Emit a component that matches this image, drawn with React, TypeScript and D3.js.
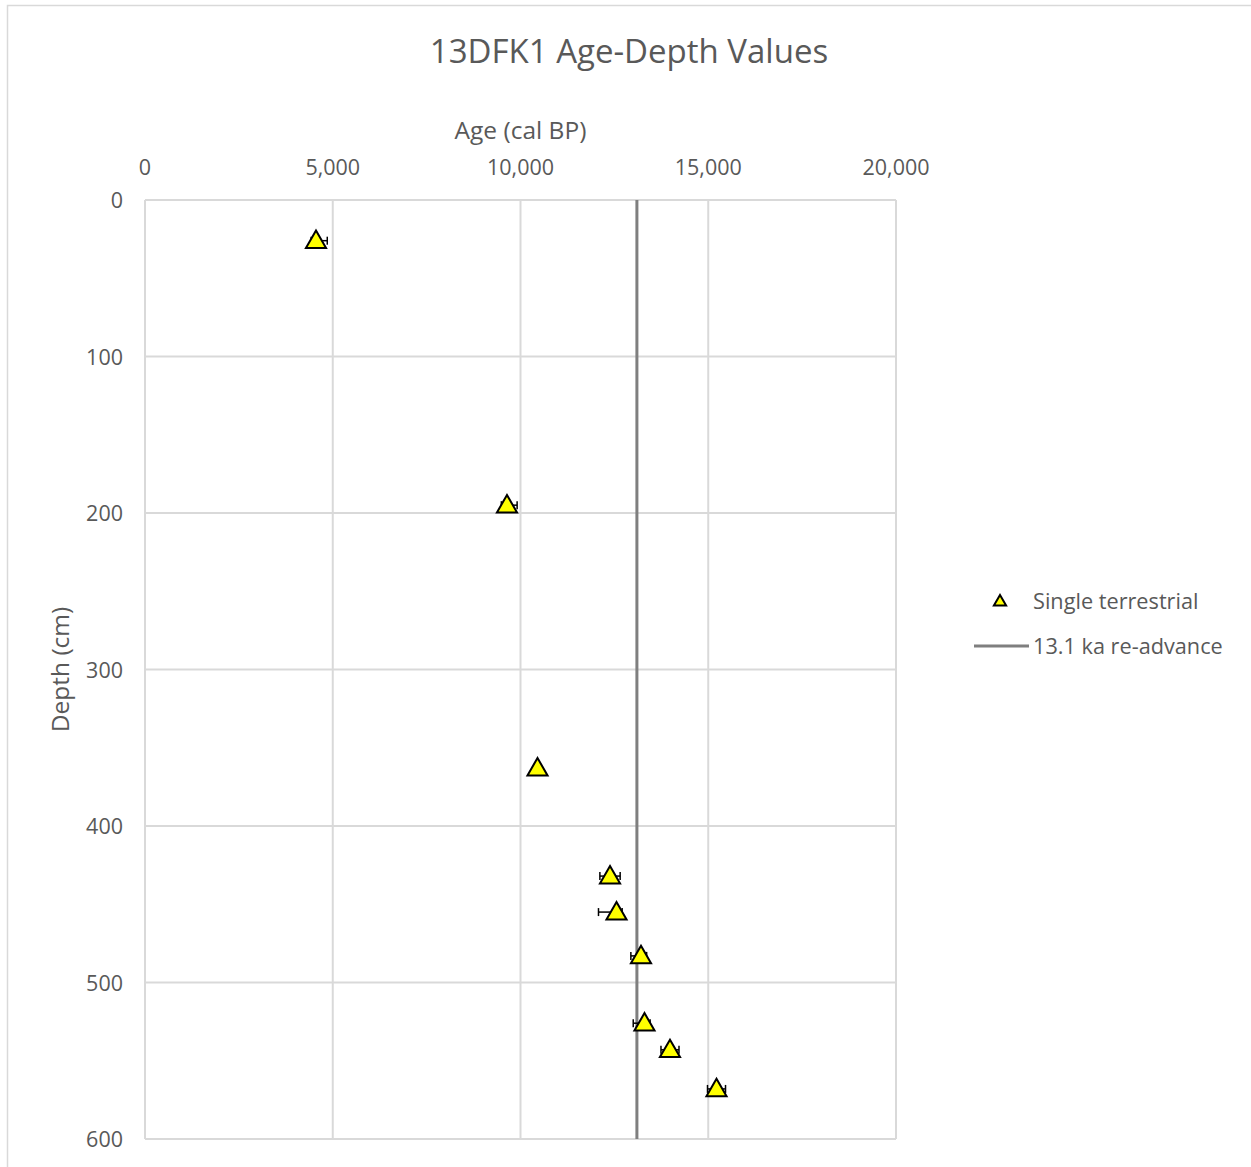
import React from "react";
import * as d3 from "d3";

const ages = [4554, 9640, 10453, 12384, 12557, 13209, 13302, 13981, 15220];
const depths = [26, 195, 363, 432, 455, 483, 526, 543, 568];
const errMinus = [130, 150, 60, 270, 480, 270, 300, 240, 240];
const errPlus = [300, 270, 60, 270, 150, 150, 150, 240, 240];
const xTicks = [0, 5000, 10000, 15000, 20000];
const yTicks = [0, 100, 200, 300, 400, 500, 600];
const readvance = 13100;
const title = "13DFK1 Age-Depth Values";
const xTitle = "Age (cal BP)";
const yTitle = "Depth (cm)";
const legendLabels = ["Single terrestrial", "13.1 ka re-advance"];

const W = 1251;
const H = 1167;
const L = 145, R = 896, T = 200, B = 1139;
const font = "'Open Sans', sans-serif";
const textColor = "#595959";

export default function App() {
  const x = d3.scaleLinear().domain([0, 20000]).range([L, R]);
  const y = d3.scaleLinear().domain([0, 600]).range([T, B]);
  const fmt = d3.format(",");
  const tri = d3.symbol().type(d3.symbolTriangle).size(175)();
  const triLegend = d3.symbol().type(d3.symbolTriangle).size(65)();
  const cap = 4;
  return (
    <svg width={W} height={H} style={{ position: "absolute", left: 0, top: 0, background: "#fff" }} fontFamily={font}>
      <rect x={7.5} y={5.5} width={1300} height={1300} fill="#fff" stroke="#d9d9d9" strokeWidth={1.5} />
      <text x={629} y={63} textAnchor="middle" fontSize={33} fill={textColor}>{title}</text>
      {xTicks.map((t) => (
        <line key={"gx" + t} x1={x(t)} x2={x(t)} y1={T} y2={B} stroke="#d9d9d9" strokeWidth={2} />
      ))}
      {yTicks.map((t) => (
        <line key={"gy" + t} x1={L} x2={R} y1={y(t)} y2={y(t)} stroke="#d9d9d9" strokeWidth={2} />
      ))}
      {xTicks.map((t) => (
        <text key={"tx" + t} x={x(t)} y={175} textAnchor="middle" fontSize={21.5} fill={textColor}>{fmt(t)}</text>
      ))}
      {yTicks.map((t) => (
        <text key={"ty" + t} x={123} y={y(t) + 8} textAnchor="end" fontSize={21.5} fill={textColor}>{fmt(t)}</text>
      ))}
      <text x={(L + R) / 2} y={139} textAnchor="middle" fontSize={24.5} fill={textColor}>{xTitle}</text>
      <text transform={`translate(69,${(T + B) / 2}) rotate(-90)`} textAnchor="middle" fontSize={24.5} fill={textColor}>{yTitle}</text>
      <line x1={x(readvance)} x2={x(readvance)} y1={T} y2={B} stroke="#7f7f7f" strokeWidth={3} />
      {ages.map((a, i) => {
        const cy = y(depths[i]);
        const x0 = x(a - errMinus[i]);
        const x1 = x(a + errPlus[i]);
        return (
          <g key={"e" + i} stroke="#000" strokeWidth={1.5}>
            <line x1={x0} x2={x1} y1={cy} y2={cy} />
            <line x1={x0} x2={x0} y1={cy - cap} y2={cy + cap} />
            <line x1={x1} x2={x1} y1={cy - cap} y2={cy + cap} />
          </g>
        );
      })}
      {ages.map((a, i) => (
        <path key={"p" + i} d={tri!} transform={`translate(${x(a)},${y(depths[i]) + 1.5})`} fill="#ffff00" stroke="#000" strokeWidth={2} />
      ))}
      <path d={triLegend!} transform={`translate(1000,602)`} fill="#ffff00" stroke="#000" strokeWidth={2} />
      <text x={1033} y={609} fontSize={21.7} fill={textColor}>{legendLabels[0]}</text>
      <line x1={974} x2={1029} y1={646} y2={646} stroke="#7f7f7f" strokeWidth={3} />
      <text x={1033} y={654} fontSize={21.7} fill={textColor}>{legendLabels[1]}</text>
    </svg>
  );
}
